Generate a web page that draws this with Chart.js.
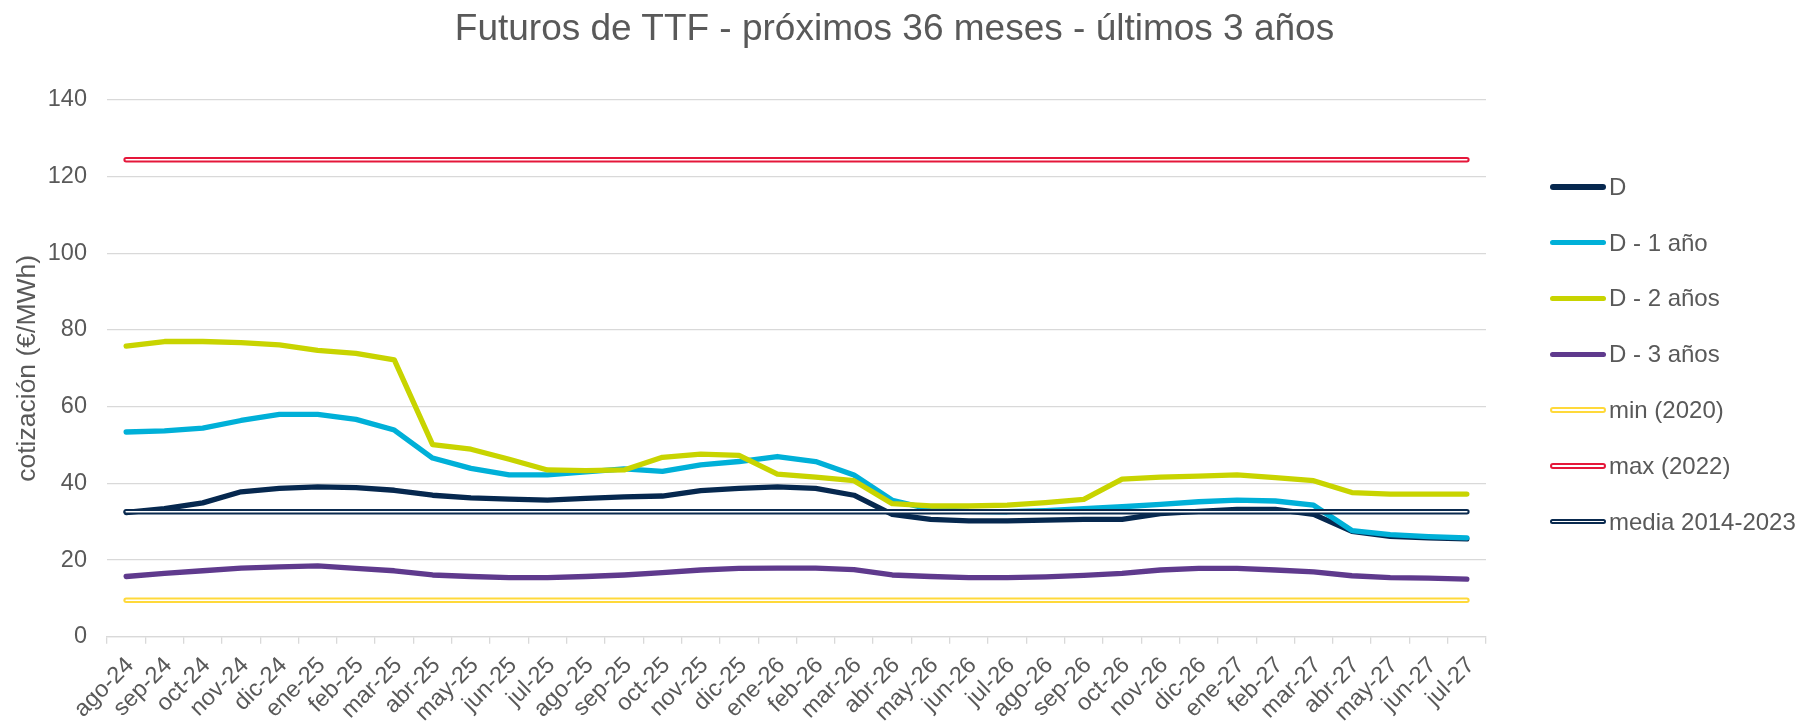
<!DOCTYPE html>
<html>
<head>
<meta charset="utf-8">
<script src="https://cdn.jsdelivr.net/npm/chart.js@4.4.1/dist/chart.umd.min.js"></script>
<style>
  html, body { margin: 0; padding: 0; background: #fff; }
  #wrap { position: relative; width: 1798px; height: 722px; }
  #title { position: absolute; left: 0; top: 9px; width: 1789px; text-align: center; line-height: 37px; font-family: "Liberation Sans", Arial, sans-serif; font-size: 37px; color: #595959; white-space: nowrap; }
  #legend { position: absolute; left: 1550px; top: 159px; font-family: "Liberation Sans", Arial, sans-serif; font-size: 24px; color: #595959; }
  .item { display: flex; align-items: center; height: 55.8px; white-space: nowrap; }
  .mark { width: 56px; box-sizing: border-box; border-radius: 3px; margin-right: 3px; }
</style>
</head>
<body>
<div id="wrap">
  <canvas id="c" width="1798" height="722"></canvas>
  <div id="title"></div>
  <div id="legend"></div>
</div>
<script>
const chartTitle = 'Futuros de TTF - próximos 36 meses - últimos 3 años';
const categories = ['ago-24','sep-24','oct-24','nov-24','dic-24','ene-25','feb-25','mar-25','abr-25','may-25','jun-25','jul-25','ago-25','sep-25','oct-25','nov-25','dic-25','ene-26','feb-26','mar-26','abr-26','may-26','jun-26','jul-26','ago-26','sep-26','oct-26','nov-26','dic-26','ene-27','feb-27','mar-27','abr-27','may-27','jun-27','jul-27'];

const serieD = [32.4,33.4,34.9,37.8,38.7,39.1,38.9,38.2,36.9,36.2,35.9,35.6,36.1,36.5,36.7,38.1,38.7,39.1,38.7,36.9,31.9,30.6,30.2,30.2,30.4,30.6,30.6,32.1,32.7,33.2,33.2,31.9,27.5,26.2,25.8,25.5];
const serieD1 = [53.4,53.7,54.4,56.4,58.0,58.0,56.7,53.9,46.6,43.9,42.2,42.2,43.0,43.8,43.1,44.8,45.7,47.0,45.7,42.2,35.6,33.2,32.7,32.6,32.9,33.4,33.9,34.5,35.2,35.6,35.4,34.3,27.7,26.6,26.1,25.8];
const serieD2 = [75.8,77.0,77.0,76.7,76.1,74.7,73.9,72.2,50.1,48.9,46.3,43.5,43.3,43.5,46.8,47.6,47.3,42.4,41.6,40.7,34.7,34.1,34.1,34.3,35.0,35.8,41.1,41.6,41.9,42.2,41.5,40.7,37.6,37.2,37.2,37.2];
const serieD3 = [15.7,16.5,17.2,17.9,18.2,18.5,17.8,17.2,16.1,15.7,15.4,15.4,15.7,16.1,16.7,17.4,17.8,17.9,17.9,17.5,16.1,15.7,15.4,15.4,15.6,16.0,16.5,17.4,17.8,17.8,17.4,16.9,15.9,15.4,15.3,15.0];

// Reference levels (drawn from first to last month)
const min2020 = [9.5, 9.5];
const max2022 = [124.4, 124.4];
const media2014_2023 = [32.6, 32.6];

const yTicks = [0, 20, 40, 60, 80, 100, 120, 140];

const seriesLabels = ['D', 'D - 1 año', 'D - 2 años', 'D - 3 años', 'min (2020)', 'max (2022)', 'media 2014-2023'];
const seriesColors = ['#06284F', '#00B0D8', '#C8D400', '#5F3A8D', '#FFD93A', '#E5173A', '#0A2A4F'];

const FONT = '"Liberation Sans", Arial, sans-serif';
const TXT = '#595959';
const GRID = '#d9d9d9';

function levelData(arr) {
  return [{x: categories[0], y: arr[0]}, {x: categories[categories.length - 1], y: arr[1]}];
}

const mainSeries = [serieD, serieD1, serieD2, serieD3];
const levels = [min2020, max2022, media2014_2023];

const datasets = [];
mainSeries.forEach((s, i) => {
  datasets.push({
    label: seriesLabels[i], data: s,
    borderColor: seriesColors[i], backgroundColor: seriesColors[i],
    borderWidth: 5.3, pointRadius: 0, tension: 0,
    borderJoinStyle: 'round', borderCapStyle: 'round',
    order: 10 - i
  });
});
levels.forEach((l, j) => {
  const i = 4 + j;
  datasets.push({
    label: seriesLabels[i], data: levelData(l),
    borderColor: seriesColors[i], backgroundColor: seriesColors[i],
    borderWidth: 5.5, pointRadius: 0, tension: 0,
    borderCapStyle: 'round', innerWidth: 1.5,
    order: 10 - i
  });
});

const doubleLinePlugin = {
  id: 'doubleLine',
  afterDatasetDraw(chart, args) {
    const ds = chart.data.datasets[args.index];
    if (!ds.innerWidth) return;
    const pts = args.meta.data;
    const ctx = chart.ctx;
    ctx.save();
    ctx.strokeStyle = '#ffffff';
    ctx.lineWidth = ds.innerWidth;
    ctx.lineCap = 'round';
    ctx.beginPath();
    pts.forEach((p, k) => { if (k === 0) ctx.moveTo(p.x, p.y); else ctx.lineTo(p.x, p.y); });
    ctx.stroke();
    ctx.restore();
  }
};

document.getElementById('title').textContent = chartTitle;

new Chart(document.getElementById('c'), {
  type: 'line',
  data: { labels: categories, datasets },
  plugins: [doubleLinePlugin],
  options: {
    responsive: false,
    animation: false,
    devicePixelRatio: 1,
    layout: { padding: { left: 0, right: 312, top: 100, bottom: 0 } },
    plugins: {
      legend: { display: false },
      tooltip: { enabled: false },
      title: { display: false }
    },
    scales: {
      x: {
        type: 'category',
        offset: true,
        grid: { offset: true, drawOnChartArea: false, drawTicks: true, tickLength: 7, color: GRID, lineWidth: 1.3 },
        border: { display: true, color: GRID, width: 1.3 },
        ticks: { autoSkip: false, minRotation: 45, maxRotation: 45, color: TXT, font: { family: FONT, size: 23.5 }, padding: 8, labelOffset: 4 },
        afterFit(scale) { scale.height = 85.3; }
      },
      y: {
        min: yTicks[0], max: yTicks[yTicks.length - 1],
        afterBuildTicks(scale) { scale.ticks = yTicks.map(v => ({ value: v })); },
        grid: { color: GRID, lineWidth: 1.3, drawTicks: false },
        border: { display: false },
        ticks: { color: TXT, font: { family: FONT, size: 23.5 }, padding: 20 },
        title: { display: true, text: 'cotización (€/MWh)', color: TXT, font: { family: FONT, size: 26.5 }, padding: { top: 12, bottom: 0 } },
        afterFit(scale) { scale.width = 107; }
      }
    }
  }
});

// HTML legend built from the series definitions
const legend = document.getElementById('legend');
datasets.forEach((ds, i) => {
  const item = document.createElement('div');
  item.className = 'item';
  const mark = document.createElement('div');
  mark.className = 'mark';
  if (ds.innerWidth) {
    mark.style.height = '5.5px';
    mark.style.border = '2px solid ' + seriesColors[i];
    mark.style.background = '#fff';
  } else {
    mark.style.height = '5.3px';
    mark.style.background = seriesColors[i];
  }
  const txt = document.createElement('span');
  txt.textContent = seriesLabels[i];
  item.appendChild(mark);
  item.appendChild(txt);
  legend.appendChild(item);
});
</script>
</body>
</html>
